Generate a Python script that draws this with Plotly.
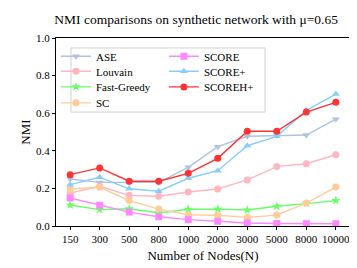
import plotly.graph_objects as go

nodes = ["150", "300", "500", "800", "1000", "2000", "3000", "5000", "8000", "10000"]

ase = [0.25, 0.232, 0.232, 0.232, 0.312, 0.422, 0.477, 0.482, 0.484, 0.568]
louvain = [0.175, 0.211, 0.163, 0.158, 0.181, 0.197, 0.245, 0.316, 0.331, 0.379]
fast_greedy = [0.112, 0.087, 0.092, 0.069, 0.089, 0.09, 0.085, 0.105, 0.119, 0.135]
sc = [0.197, 0.206, 0.135, 0.09, 0.06, 0.057, 0.046, 0.058, 0.122, 0.207]
score = [0.149, 0.11, 0.074, 0.049, 0.034, 0.025, 0.016, 0.013, 0.012, 0.012]
score_plus = [0.22, 0.259, 0.198, 0.185, 0.254, 0.294, 0.427, 0.477, 0.615, 0.702]
scoreh_plus = [0.273, 0.309, 0.238, 0.238, 0.28, 0.36, 0.504, 0.504, 0.606, 0.658]

names = ["ASE", "Louvain", "Fast-Greedy", "SC", "SCORE", "SCORE+", "SCOREH+"]
values = [ase, louvain, fast_greedy, sc, score, score_plus, scoreh_plus]
colors = ["#b0c4de", "#ffb6c1", "#66ff66", "#ffcc99", "#ff88ff", "#87cefa", "#ff3333"]
symbols = ["triangle-down", "circle", "star", "circle", "square", "triangle-up", "circle"]

font_family = "Liberation Serif, Times New Roman, serif"

# legend slot positions (paper coords): two columns
leg_x = [0.0, 0.0, 0.0, 0.0, 0.367, 0.367, 0.367]
leg_y = [0.903, 0.823, 0.74, 0.655, 0.903, 0.823, 0.74]

fig = go.Figure()
layout_legends = {}
for i, (name, vals, color, sym) in enumerate(zip(names, values, colors, symbols)):
    key = "legend" if i == 0 else f"legend{i+1}"
    fig.add_trace(go.Scatter(
        x=nodes, y=vals, name=name, mode="lines+markers",
        line=dict(color=color, width=1.4),
        marker=dict(symbol=sym, size=7, color=color),
        legend=key, showlegend=True,
    ))
    layout_legends[key] = dict(
        x=leg_x[i], y=leg_y[i], xanchor="left", yanchor="middle",
        bgcolor="rgba(0,0,0,0)", borderwidth=0, visible=True,
        font=dict(size=11, family=font_family), itemwidth=30,
    )

fig.update_layout(
    width=357, height=268,
    showlegend=True,
    margin=dict(l=48, r=15, t=30, b=50),
    paper_bgcolor="white", plot_bgcolor="white",
    font=dict(family=font_family, size=11, color="black"),
    title=dict(text="NMI comparisons on synthetic network with μ=0.65",
               x=0.527, xanchor="center", y=0.975, yanchor="top",
               font=dict(size=13.5, family=font_family)),
    xaxis=dict(
        type="category", categoryorder="array", categoryarray=nodes,
        range=[-0.48, 9.48], showgrid=False, zeroline=False,
        showline=True, linecolor="black", linewidth=1, mirror=True,
        ticks="outside", ticklen=3, tickcolor="black", tickangle=0,
        tickfont=dict(size=11, family=font_family),
        title=dict(text="Number of Nodes(N)", font=dict(size=13, family=font_family), standoff=6),
    ),
    yaxis=dict(
        range=[0, 1], tickvals=[0, 0.2, 0.4, 0.6, 0.8, 1.0], tickformat=".1f",
        showgrid=False, zeroline=False,
        showline=True, linecolor="black", linewidth=1, mirror=True,
        ticks="outside", ticklen=3, tickcolor="black",
        tickfont=dict(size=11, family=font_family),
        title=dict(text="NMI", font=dict(size=13, family=font_family), standoff=2),
    ),
    shapes=[dict(type="rect", xref="paper", yref="paper",
                 x0=0.051, x1=0.711, y0=0.606, y1=0.947,
                 line=dict(color="#d0d0d0", width=1), fillcolor="rgba(255,255,255,0.8)",
                 layer="below")],
    **layout_legends,
)

fig.write_html("out.html")
